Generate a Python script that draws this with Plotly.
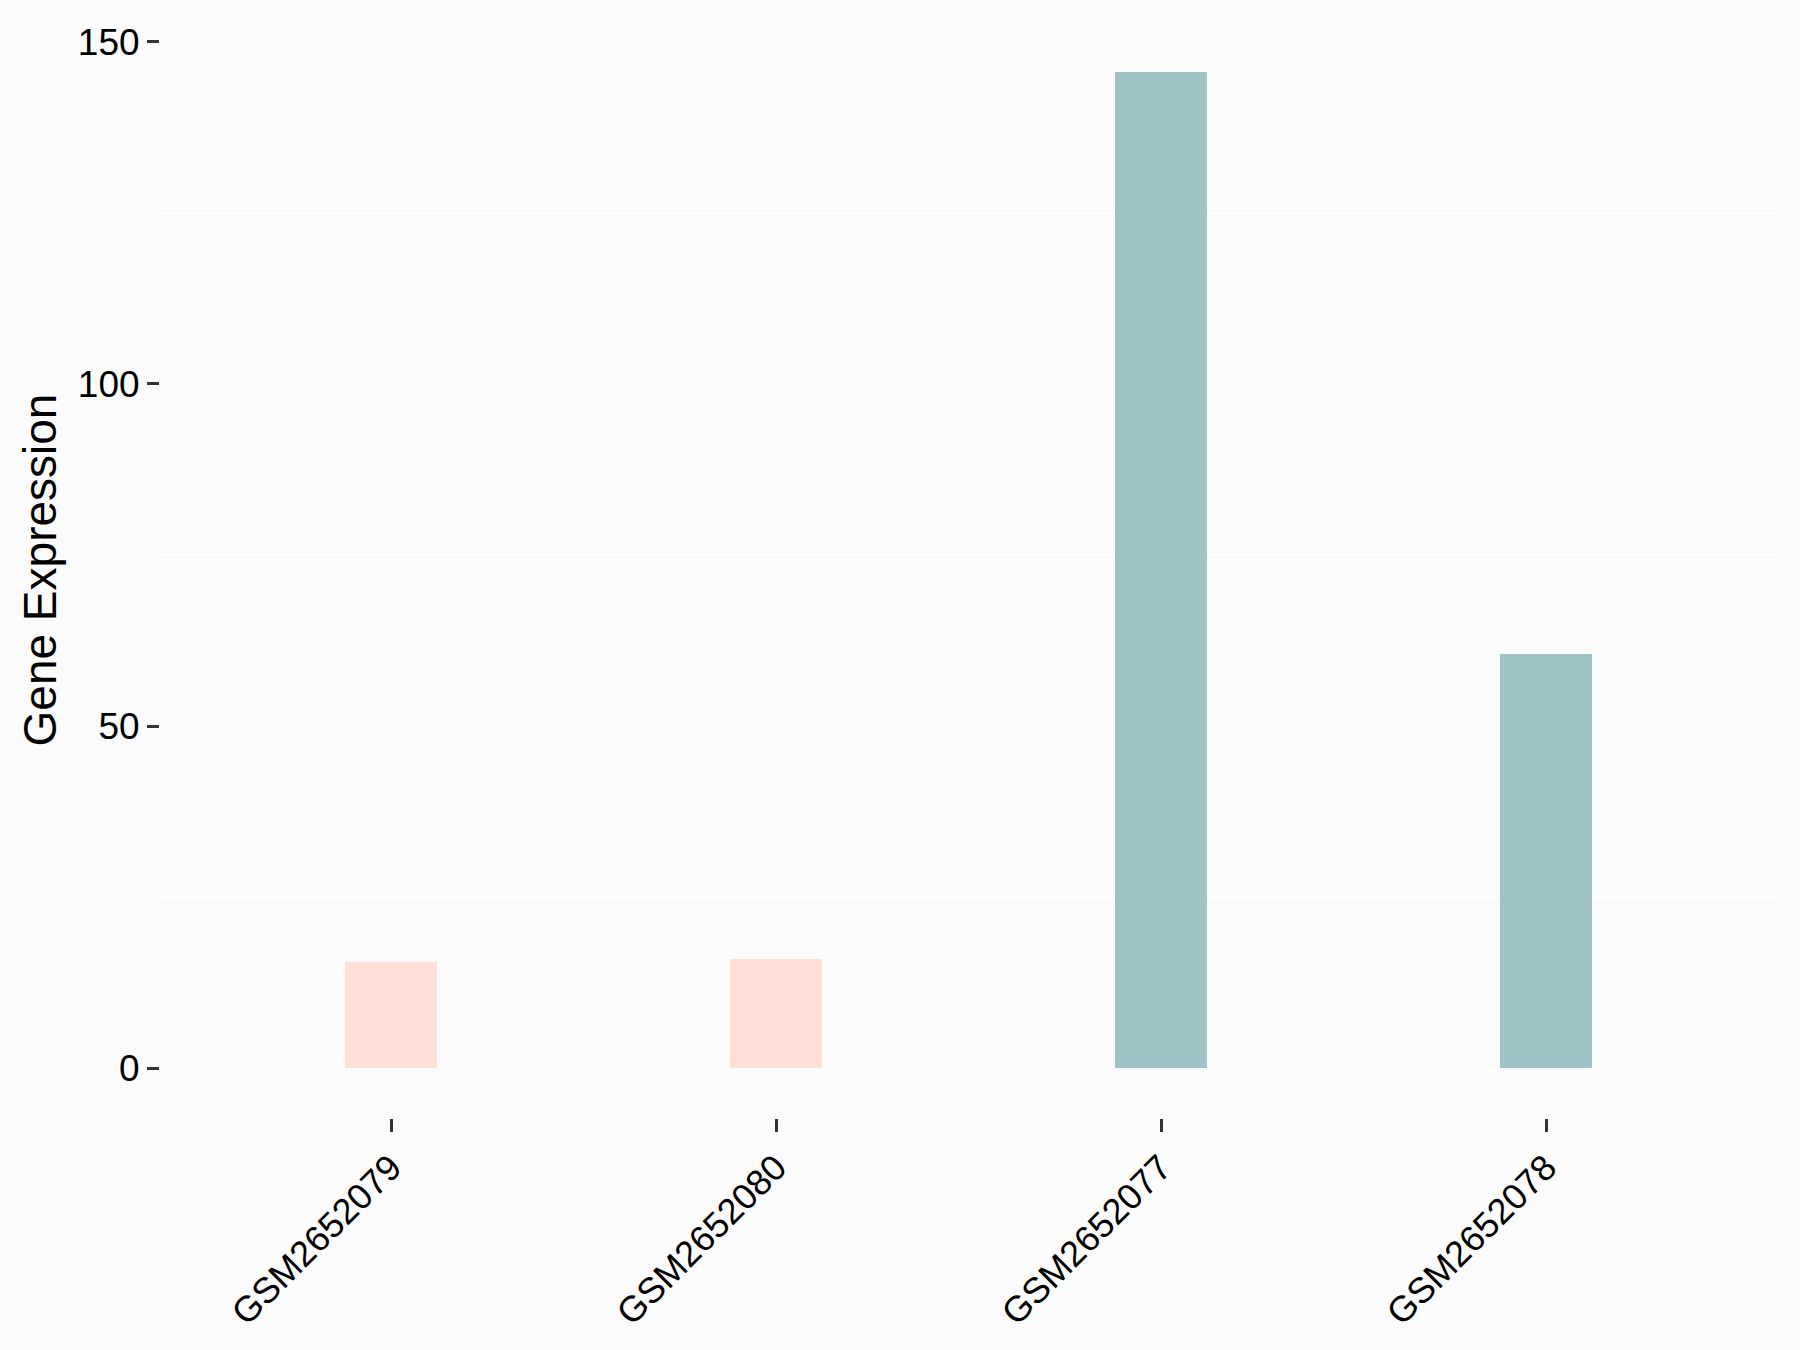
import plotly.graph_objects as go

samples = ["GSM2652079", "GSM2652080", "GSM2652077", "GSM2652078"]
expression = [15.45, 16.0, 145.6, 60.6]
colors = ["#FEE0D6", "#FEE0D6", "#9DC3C7", "#9DC3C7"]
y_ticks = [0, 50, 100, 150]
minor_grid = [25, 75, 125]

fig = go.Figure()
fig.add_trace(go.Bar(
    x=samples, y=expression, width=0.24,
    marker=dict(color=colors, line=dict(width=0)),
    showlegend=False,
))

bg = "#FBFBFB"
fig.update_layout(
    width=1800, height=1350,
    paper_bgcolor=bg, plot_bgcolor=bg,
    margin=dict(l=160, r=23, t=22, b=232),
    font=dict(family="Liberation Sans, Arial, sans-serif", color="#000000"),
    bargap=0,
)
fig.update_xaxes(
    range=[-0.6, 3.6], showgrid=False, zeroline=False, showline=False,
    ticks="outside", ticklen=13, tickwidth=3, tickcolor="#333333",
    tickangle=-45, tickfont=dict(size=36, color="#000000"),
)
fig.update_yaxes(
    range=[-7.28, 152.9], tickvals=y_ticks, showgrid=False, zeroline=False, showline=False,
    ticks="outside", ticklen=12, tickwidth=3, tickcolor="#333333",
    tickfont=dict(size=37, color="#000000"), ticklabelstandoff=0,
    minor=dict(tickvals=minor_grid, showgrid=True, gridcolor="#FFFFFF", gridwidth=2, ticks=""),
    title=dict(text="Gene Expression", font=dict(size=46, color="#000000"), standoff=6),
)
fig.write_html(
    "out.html",
    config={"displayModeBar": False},
    post_script="document.body.style.margin='0';document.body.style.background='#FBFBFB';",
)
